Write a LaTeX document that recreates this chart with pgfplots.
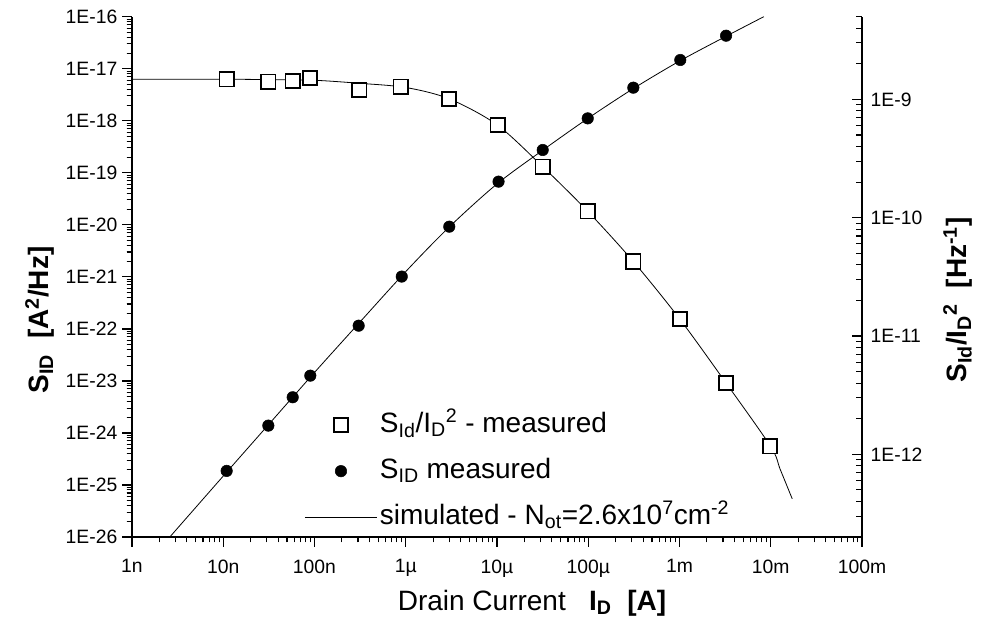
\documentclass[border=0pt]{standalone}
\usepackage{fontspec}
\setmainfont{Liberation Sans}
\usepackage{pgfplots}
\pgfplotsset{compat=1.18}

\pgfplotstableread{
x y
1.09e-8 1.48e-9
3.12e-8 1.41e-9
5.77e-8 1.43e-9
8.93e-8 1.52e-9
3.10e-7 1.20e-9
8.81e-7 1.28e-9
2.98e-6 1.01e-9
1.02e-5 6.07e-10
3.17e-5 2.70e-10
9.87e-5 1.13e-10
3.12e-4 4.26e-11
1.01e-3 1.39e-11
3.24e-3 4.01e-12
9.8e-3 1.17e-12
}\squares

\pgfplotstableread{
x y
1.09e-8 1.86e-25
3.12e-8 1.38e-24
5.77e-8 4.84e-24
9.0e-8 1.26e-23
3.05e-7 1.15e-22
9.04e-7 1.01e-21
3.0e-6 9.2e-21
1.04e-5 6.75e-20
3.17e-5 2.74e-19
9.87e-5 1.11e-18
3.12e-4 4.32e-18
1.02e-3 1.47e-17
3.24e-3 4.31e-17
}\circles

\pgfplotstableread{
x y
2.6e-9 1.0e-26
1e-8 1.48e-25
3e-8 1.32e-24
1e-7 1.45e-23
3e-7 1.23e-22
1e-6 1.26e-21
3e-6 9.09e-21
1e-5 6.1e-20
3.17e-5 2.71e-19
1e-4 1.12e-18
3.12e-4 4.15e-18
1e-3 1.4e-17
3.24e-3 4.2e-17
8.4e-3 1.0e-16
}\simS

\pgfplotstableread{
x y
1e-9 1.48e-9
1e-8 1.48e-9
3e-8 1.47e-9
1e-7 1.45e-9
3e-7 1.37e-9
1e-6 1.26e-9
3e-6 1.01e-9
1e-5 6.1e-10
3.17e-5 2.7e-10
1e-4 1.12e-10
3.12e-4 4.26e-11
1e-3 1.4e-11
3.24e-3 4.0e-12
1e-2 1.16e-12
1.27e-2 7.45e-13
1.72e-2 4.2e-13
}\simR

\begin{document}
\begin{tikzpicture}
\useasboundingbox (-99pt,-68.25pt) rectangle (636.75pt,402.7pt);
\begin{axis}[
  scale only axis, width=547.5pt, height=390.2pt,
  at={(0pt,0pt)}, anchor=south west,
  xmode=log, ymode=log, xmin=1e-9, xmax=1e-1, ymin=1e-26, ymax=1e-16,
  axis line style={line width=1.3pt},
  major tick length=7.5pt, minor tick length=4pt,
  every tick/.style={black, line width=1pt},
  every minor tick/.style={black, line width=0.8pt},
  tick label style={font=\fontsize{14.5}{16}\selectfont},
  xticklabel style={yshift=-6pt},
  label style={font=\fontsize{21}{25}\selectfont},
  axis x line*=bottom, axis y line*=left, tick align=outside,
  xtick={1e-9,1e-8,1e-7,1e-6,1e-5,1e-4,1e-3,1e-2,1e-1},
  xticklabels={1n,10n,100n,1µ,10µ,100µ,1m,10m,100m},
  ytick={1e-26,1e-25,1e-24,1e-23,1e-22,1e-21,1e-20,1e-19,1e-18,1e-17,1e-16},
  yticklabels={1E-26,1E-25,1E-24,1E-23,1E-22,1E-21,1E-20,1E-19,1E-18,1E-17,1E-16},
  extra y ticks={2e-26,3e-26,4e-26,5e-26,6e-26,7e-26,8e-26,9e-26,
    2e-25,3e-25,4e-25,5e-25,6e-25,7e-25,8e-25,9e-25,
    2e-24,3e-24,4e-24,5e-24,6e-24,7e-24,8e-24,9e-24,
    2e-23,3e-23,4e-23,5e-23,6e-23,7e-23,8e-23,9e-23,
    2e-22,3e-22,4e-22,5e-22,6e-22,7e-22,8e-22,9e-22,
    2e-21,3e-21,4e-21,5e-21,6e-21,7e-21,8e-21,9e-21,
    2e-20,3e-20,4e-20,5e-20,6e-20,7e-20,8e-20,9e-20,
    2e-19,3e-19,4e-19,5e-19,6e-19,7e-19,8e-19,9e-19,
    2e-18,3e-18,4e-18,5e-18,6e-18,7e-18,8e-18,9e-18,
    2e-17,3e-17,4e-17,5e-17,6e-17,7e-17,8e-17,9e-17},
  extra y tick labels={},
  extra y tick style={major tick length=4pt, every major tick/.append style={line width=0.8pt}},
  xlabel={Drain Current\ \ \ \textbf{I\textsubscript{D}\ \ [A]}},
  ylabel={\textbf{S\textsubscript{ID}\ \ [A\textsuperscript{2}/Hz]}},
  xlabel style={at={(rel axis cs:0.548,-0.127)}, anchor=center},
  ylabel style={at={(rel axis cs:-0.126,0.417)}, anchor=center},
]
\addplot[black, line width=0.6pt, smooth] table {\simS};
\addplot[only marks, mark=*, mark size=4.3pt, black] table {\circles};
\end{axis}
\begin{axis}[
  scale only axis, width=547.5pt, height=390.2pt,
  at={(0pt,0pt)}, anchor=south west,
  xmode=log, ymode=log, xmin=1e-9, xmax=1e-1, ymin=2e-13, ymax=5e-9,
  axis line style={line width=1.3pt},
  major tick length=7.5pt, minor tick length=4.5pt,
  every tick/.style={black, line width=1pt},
  every minor tick/.style={black, line width=0.8pt},
  tick label style={font=\fontsize{14.5}{16}\selectfont},
  yticklabel style={xshift=3pt},
  label style={font=\fontsize{21}{25}\selectfont},
  axis x line=none, axis y line*=right, tick align=inside,
  ytick={1e-12,1e-11,1e-10,1e-9},
  yticklabels={1E-12,1E-11,1E-10,1E-9},
  extra y ticks={2e-13,3e-13,4e-13,5e-13,6e-13,7e-13,8e-13,9e-13,
    2e-12,3e-12,4e-12,5e-12,6e-12,7e-12,8e-12,9e-12,
    2e-11,3e-11,4e-11,5e-11,6e-11,7e-11,8e-11,9e-11,
    2e-10,3e-10,4e-10,5e-10,6e-10,7e-10,8e-10,9e-10,
    2e-9,3e-9,4e-9,5e-9},
  extra y tick labels={},
  extra y tick style={major tick length=4.5pt, every major tick/.append style={line width=0.8pt}},
  ylabel={\textbf{S\textsubscript{Id}/I\textsubscript{D}\textsuperscript{2}\ \ [Hz\textsuperscript{-1}]}},
  ylabel style={at={(rel axis cs:1.1315,0.4555)}, anchor=center},
  legend style={draw=none, fill=none, at={(0.236,0.25)}, anchor=north west,
    font=\fontsize{21}{25}\selectfont, inner sep=0pt,
    nodes={text height=17pt, text depth=6pt, inner sep=2pt},
    row sep=7.5pt},
  legend cell align=left,
]
\addlegendimage{only marks, mark=square*, mark size=5.4pt, mark options={fill=white, line width=1.3pt}, xshift=18.5pt}
\addlegendentry{S\textsubscript{Id}/I\textsubscript{D}\textsuperscript{2} - measured}
\addlegendimage{only marks, mark=*, mark size=4.3pt, black, xshift=18.5pt}
\addlegendentry{S\textsubscript{ID} measured}
\addlegendimage{black, line width=0.6pt, xscale=3.16}
\addlegendentry{simulated - N\textsubscript{ot}=2.6x10\textsuperscript{7}cm\textsuperscript{-2}}
\addplot[black, line width=0.6pt, smooth, forget plot] table {\simR};
\addplot[only marks, mark=square*, mark size=5.4pt, mark options={fill=white, line width=1.3pt}, black, forget plot] table {\squares};
\end{axis}
\end{tikzpicture}
\end{document}
